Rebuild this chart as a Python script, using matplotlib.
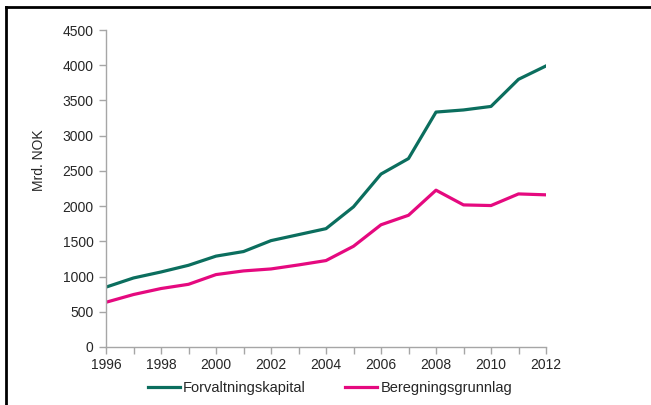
import matplotlib
matplotlib.use("Agg")
import matplotlib.pyplot as plt
from matplotlib.lines import Line2D

years = list(range(1996, 2013))
forvaltningskapital = [850, 980, 1065, 1160, 1290, 1355, 1510, 1595, 1680, 1990,
                       2455, 2675, 3335, 3365, 3415, 3800, 3990]
beregningsgrunnlag = [635, 745, 830, 890, 1028, 1080, 1108, 1165, 1227, 1430,
                      1735, 1870, 2226, 2017, 2008, 2173, 2160]
y_ticks = [0, 500, 1000, 1500, 2000, 2500, 3000, 3500, 4000, 4500]
x_labels = list(range(1996, 2013, 2))

green = "#0B6E5E"
pink = "#E5097F"
axis_grey = "#A6A6A6"
text_col = "#262626"

plt.rcParams["font.family"] = ["Liberation Sans", "DejaVu Sans"]

W, H = 651, 405
fig = plt.figure(figsize=(W / 100, H / 100), dpi=100)
ax = fig.add_axes([106 / W, 1 - 347 / H, 440 / W, 317 / H])

ax.plot(years, forvaltningskapital, color=green, lw=2.3, solid_joinstyle="round",
        label="Forvaltningskapital")
ax.plot(years, beregningsgrunnlag, color=pink, lw=2.3, solid_joinstyle="round",
        label="Beregningsgrunnlag")

ax.set_xlim(1996, 2012)
ax.set_ylim(0, 4500)
ax.set_yticks(y_ticks)
ax.set_xticks(years)
ax.set_xticklabels([str(y) if y in x_labels else "" for y in years])

for side in ("top", "right"):
    ax.spines[side].set_visible(False)
for side in ("left", "bottom"):
    ax.spines[side].set_color(axis_grey)
    ax.spines[side].set_linewidth(1.0)

ax.tick_params(axis="both", colors=axis_grey, labelcolor=text_col,
               labelsize=10, length=5, width=1.0, direction="out")
ax.tick_params(axis="y", pad=4)
ax.tick_params(axis="x", pad=3)

ax.set_ylabel("Mrd. NOK", fontsize=10, color=text_col)
ax.yaxis.set_label_coords(-0.136, 0.59)

handles = [Line2D([], [], color=green, lw=2.3), Line2D([], [], color=pink, lw=2.3)]
fig.legend(handles, ["Forvaltningskapital", "Beregningsgrunnlag"],
           loc="center", bbox_to_anchor=(330 / W, 1 - 388 / H), ncol=2,
           frameon=False, fontsize=10.5, handlelength=2.2, handletextpad=0.2,
           columnspacing=2.7, labelcolor=text_col)

# page frame around the figure
fig.add_artist(Line2D([6 / W, 6 / W], [0, 1 - 7 / H], color="black", lw=2,
                      transform=fig.transFigure))
fig.add_artist(Line2D([6 / W, 1], [1 - 7 / H, 1 - 7 / H], color="black", lw=2,
                      transform=fig.transFigure))

fig.savefig("out.png", dpi=100)
